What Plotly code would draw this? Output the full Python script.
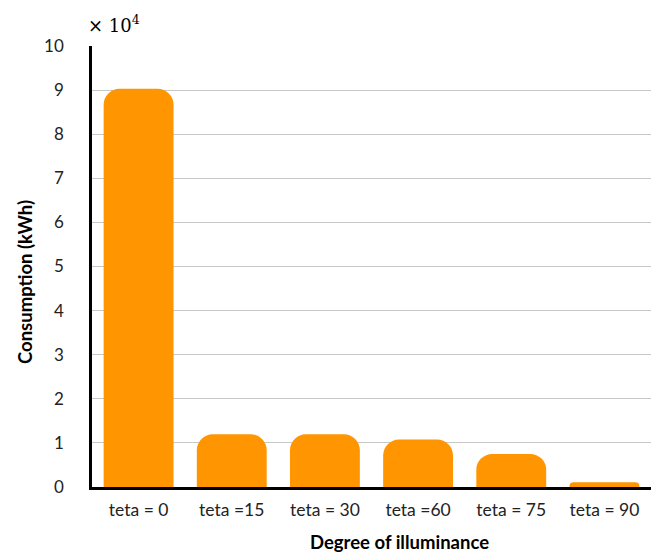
import plotly.graph_objects as go

categories = ["teta = 0", "teta =15", "teta = 30", "teta =60", "teta = 75", "teta = 90"]
consumption_kwh = [90300, 11950, 11950, 10750, 7500, 1100]
y_tick_values = [0, 10000, 20000, 30000, 40000, 50000, 60000, 70000, 80000, 90000, 100000]
y_tick_labels = ["0", "1", "2", "3", "4", "5", "6", "7", "8", "9", "10"]

FONT = "Lato, 'Open Sans', sans-serif"

fig = go.Figure(go.Bar(
    x=categories,
    y=consumption_kwh,
    marker=dict(color="#FF9500", line=dict(width=0)),
))

fig.update_layout(
    width=651, height=554,
    margin=dict(l=92, r=0, t=46, b=67, autoexpand=False),
    paper_bgcolor="white",
    plot_bgcolor="white",
    bargap=0.25,
    barcornerradius=16,
    showlegend=False,
    font=dict(family=FONT, size=17, color="#111111"),
)

fig.update_xaxes(
    showline=True, linecolor="black", linewidth=2.5,
    showgrid=False, ticks="", ticklabelstandoff=5,
    tickfont=dict(size=17.5, family=FONT, color="#222222"),
)

fig.update_yaxes(
    range=[0, 100000],
    tickvals=y_tick_values, ticktext=y_tick_labels,
    showline=True, linecolor="black", linewidth=2.5,
    showgrid=True, gridcolor="#c8c8c8", gridwidth=1,
    zeroline=False, ticks="", ticklabelstandoff=22,
    tickfont=dict(size=17, family=FONT, color="#222222"),
)

# axis titles placed as annotations (offset as in the reference)
fig.add_annotation(
    x=400, y=542,
    text="<b>Degree of illuminance</b>", showarrow=False,
    xanchor="center", yanchor="middle",
    font=dict(size=18.5, family=FONT, color="black"),
)
fig.add_annotation(
    x=25, y=282, text="<b>Consumption (kWh)</b>", showarrow=False, textangle=-90,
    xanchor="center", yanchor="middle",
    font=dict(size=18.5, family=FONT, color="black"),
)

fig.add_annotation(
    x=0, xref="paper", y=1, yref="paper",
    xanchor="left", yanchor="bottom", yshift=8, xshift=-6,
    text="× 10<sup>4</sup>", showarrow=False,
    font=dict(family="'DejaVu Serif', serif", size=18, color="black"),
)

# convert pixel positions of the title annotations into paper coordinates
plot_l, plot_r, plot_t, plot_b = 92, 651, 46, 554 - 67
for ann in fig.layout.annotations[:2]:
    px, py = ann.x, ann.y
    ann.xref, ann.yref = "paper", "paper"
    ann.x = (px - plot_l) / (plot_r - plot_l)
    ann.y = (plot_b - py) / (plot_b - plot_t)

fig.write_html("out.html")
